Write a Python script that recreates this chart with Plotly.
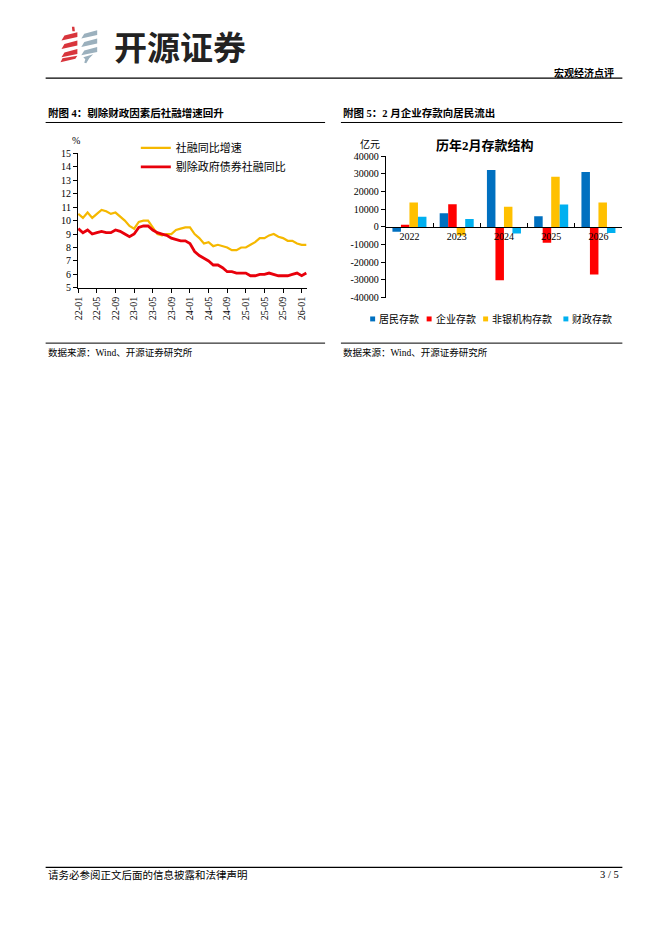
import plotly.graph_objects as go

W, H = 662, 936
def P(x):
    return x / W
def Q(y):
    return 1 - y / H

# ---------------- data: chart 4 (line) ----------------
months = [f"{y:02d}-{m:02d}" for y in range(22, 27) for m in range(1, 13)][:50]
tsf_yoy = [10.5, 10.2, 10.6, 10.2, 10.5, 10.8, 10.7, 10.5, 10.6, 10.3, 10.0, 9.6,
           9.4, 9.9, 10.0, 10.0, 9.5, 9.0, 8.9, 9.0, 9.0, 9.3, 9.4, 9.5,
           9.5, 9.0, 8.7, 8.3, 8.4, 8.1, 8.2, 8.1, 8.0, 7.8, 7.8, 8.0,
           8.0, 8.2, 8.4, 8.7, 8.7, 8.9, 9.0, 8.8, 8.7, 8.5, 8.5, 8.3,
           8.2, 8.2]
tsf_ex_gov = [9.4, 9.1, 9.3, 9.0, 9.1, 9.2, 9.1, 9.1, 9.3, 9.2, 9.0, 8.8,
              9.0, 9.5, 9.6, 9.6, 9.3, 9.1, 9.0, 8.9, 8.7, 8.6, 8.5, 8.5,
              8.3, 7.7, 7.4, 7.2, 7.0, 6.7, 6.7, 6.5, 6.2, 6.2, 6.1, 6.1,
              6.1, 5.9, 5.9, 6.0, 6.0, 6.1, 6.0, 5.9, 5.9, 5.9, 6.0, 6.1,
              5.9, 6.1]
line_names = ["社融同比增速", "剔除政府债券社融同比"]
line_ticks = months[::4]

# ---------------- data: chart 5 (bars) ----------------
years = ["2022", "2023", "2024", "2025", "2026"]
household = [-2800, 7800, 32200, 6100, 31100]
corporate = [1300, 12800, -30200, -8900, -27000]
nonbank = [13800, -4800, 11500, 28500, 13800]
fiscal = [5800, 4500, -3700, 12700, -3500]
bar_names = ["居民存款", "企业存款", "非银机构存款", "财政存款"]
bar_colors = ["#0070C0", "#FF0000", "#FFC000", "#00B0F0"]
bar_ytick_vals = [40000, 30000, 20000, 10000, 0, -10000, -20000, -30000, -40000]
bar_ytick_text = ["40000", "30000", "20000", "10000", "0", "-10000", "-20000", "-30000", "-40000"]

SERIF = "Liberation Serif, Noto Sans CJK SC"
CJK = "Noto Sans CJK SC"

fig = go.Figure()

fig.add_trace(go.Scatter(x=months, y=tsf_yoy, name=line_names[0], mode="lines",
                         line=dict(color="#F5B800", width=2.2), xaxis="x", yaxis="y",
                         legend="legend"))
fig.add_trace(go.Scatter(x=months, y=tsf_ex_gov, name=line_names[1], mode="lines",
                         line=dict(color="#E8000B", width=2.8), xaxis="x", yaxis="y",
                         legend="legend"))

for name, vals, col in zip(bar_names, [household, corporate, nonbank, fiscal], bar_colors):
    fig.add_trace(go.Bar(x=years, y=vals, name=name, marker=dict(color=col, line=dict(width=0)),
                         xaxis="x2", yaxis="y2", showlegend=False))

# ---------------- page decorations ----------------
shapes = []
def hline(x0, x1, y, w=1, color="#000000"):
    shapes.append(dict(type="line", xref="paper", yref="paper", x0=P(x0), x1=P(x1),
                       y0=Q(y), y1=Q(y), line=dict(color=color, width=w)))

hline(40, 622, 73, 1.3)
hline(40, 322, 118, 1)
hline(338, 622, 118, 1)
hline(40, 322, 341.5, 1)
hline(338, 622, 341.5, 1)
hline(40, 622, 872.5, 1.3)

def poly(pts, color):
    d = "M " + " L ".join(f"{P(x):.5f},{Q(y):.5f}" for x, y in pts) + " Z"
    shapes.append(dict(type="path", xref="paper", yref="paper", path=d,
                       fillcolor=color, line=dict(width=0)))

red = "#D8353C"
grey = "#9BB0BD"
poly([(66.5, 21), (69, 21), (69.5, 25.5), (67, 25.5)], red)
for y0 in [29, 37.5, 46]:
    poly([(56, y0 + 6), (72, y0 + 2.5), (72, y0 - 2.5), (59, y0 + 1)], red)
poly([(55, 57), (70, 53.5), (72, 50.5), (57, 53)], red)
for y0 in [27, 35.5, 44]:
    poly([(76, y0 + 6), (92, y0 + 2.5), (92, y0 - 2.5), (79, y0 + 1)], grey)
poly([(78, 52), (88, 49), (84, 53), (81, 58), (79, 57.5), (80, 54)], grey)

# legend squares for bar chart (manual legend)
leg_items_x = [367.5, 424.5, 481.5, 562.5]
for xx, col in zip(leg_items_x, bar_colors):
    shapes.append(dict(type="rect", xref="paper", yref="paper", x0=P(xx), x1=P(xx + 5),
                       y0=Q(319.5), y1=Q(314.5), fillcolor=col, line=dict(width=0)))

annotations = []
def txt(x, y, s, size=10, family=CJK, color="#000000", xanchor="left", bold=False):
    if bold:
        s = f"<b>{s}</b>"
    annotations.append(dict(xref="paper", yref="paper", x=P(x), y=Q(y), text=s, showarrow=False,
                            xanchor=xanchor, yanchor="middle", font=dict(size=size, family=family, color=color)))

txt(107, 41, "开源证券", size=33, color="#222222", bold=True)
txt(616, 67, "宏观经济点评", size=10, xanchor="right", bold=True)
txt(40, 108, "附图 4：剔除财政因素后社融增速回升", size=10.5, family=SERIF, bold=True)
txt(338, 108, "附图 5：2 月企业存款向居民流出", size=10.5, family=SERIF, bold=True)
txt(40, 351, "数据来源：Wind、开源证券研究所", size=9.5, family=SERIF)
txt(338, 351, "数据来源：Wind、开源证券研究所", size=9.5, family=SERIF)
txt(40, 880, "请务必参阅正文后面的信息披露和法律声明", size=10.5, family=SERIF)
txt(621, 880, "3 / 5", size=10.5, family=SERIF, xanchor="right")
txt(71, 136, "%", size=10, family=SERIF, xanchor="center")
txt(367, 139.5, "亿元", size=10, family=SERIF, xanchor="center")
txt(483, 141.5, "历年2月存款结构", size=13, family=SERIF, xanchor="center", bold=True)
for xx, nm in zip(leg_items_x, bar_names):
    txt(xx + 7, 317, nm, size=10, family=SERIF)

axis_common = dict(showgrid=False, zeroline=False, showline=True, linecolor="#000000",
                   linewidth=1, tickcolor="#000000", tickfont=dict(family=SERIF, size=10, color="#000000"))

fig.update_layout(
    width=W, height=H, margin=dict(l=0, r=0, t=0, b=0),
    paper_bgcolor="white", plot_bgcolor="rgba(0,0,0,0)",
    showlegend=True,
    shapes=shapes, annotations=annotations,
    bargap=0.28, bargroupgap=0, barmode="group",
    xaxis=dict(domain=[P(72.7), P(304)], anchor="y", type="category", range=[-0.05, 49.2],
               tickmode="array", tickvals=line_ticks, ticktext=line_ticks, tickangle=-90,
               ticks="outside", ticklen=4, **axis_common),
    yaxis=dict(domain=[Q(285.5), Q(149.3)], anchor="x", range=[5, 15], dtick=1,
               ticks="outside", ticklen=4, **axis_common),
    xaxis2=dict(domain=[P(383.3), P(621.7)], anchor="free", position=Q(224), type="category",
                ticks="inside", tickson="boundaries", ticklen=4, **axis_common),
    yaxis2=dict(domain=[Q(295.3), Q(152.3)], anchor="x2", range=[-40000, 40000],
                tickmode="array", tickvals=bar_ytick_vals, ticktext=bar_ytick_text,
                ticks="outside", ticklen=4, **axis_common),
    legend=dict(x=P(131), y=Q(129), xanchor="left", yanchor="top", bgcolor="rgba(0,0,0,0)",
                font=dict(family=SERIF, size=11, color="#000000"), itemwidth=30,
                tracegroupgap=0),
)

fig.write_html(
    "out.html",
    config={"displayModeBar": False},
    post_script="document.body.style.margin='0';document.body.style.padding='0';"
                "document.documentElement.style.overflow='hidden';document.body.style.overflow='hidden';",
)
